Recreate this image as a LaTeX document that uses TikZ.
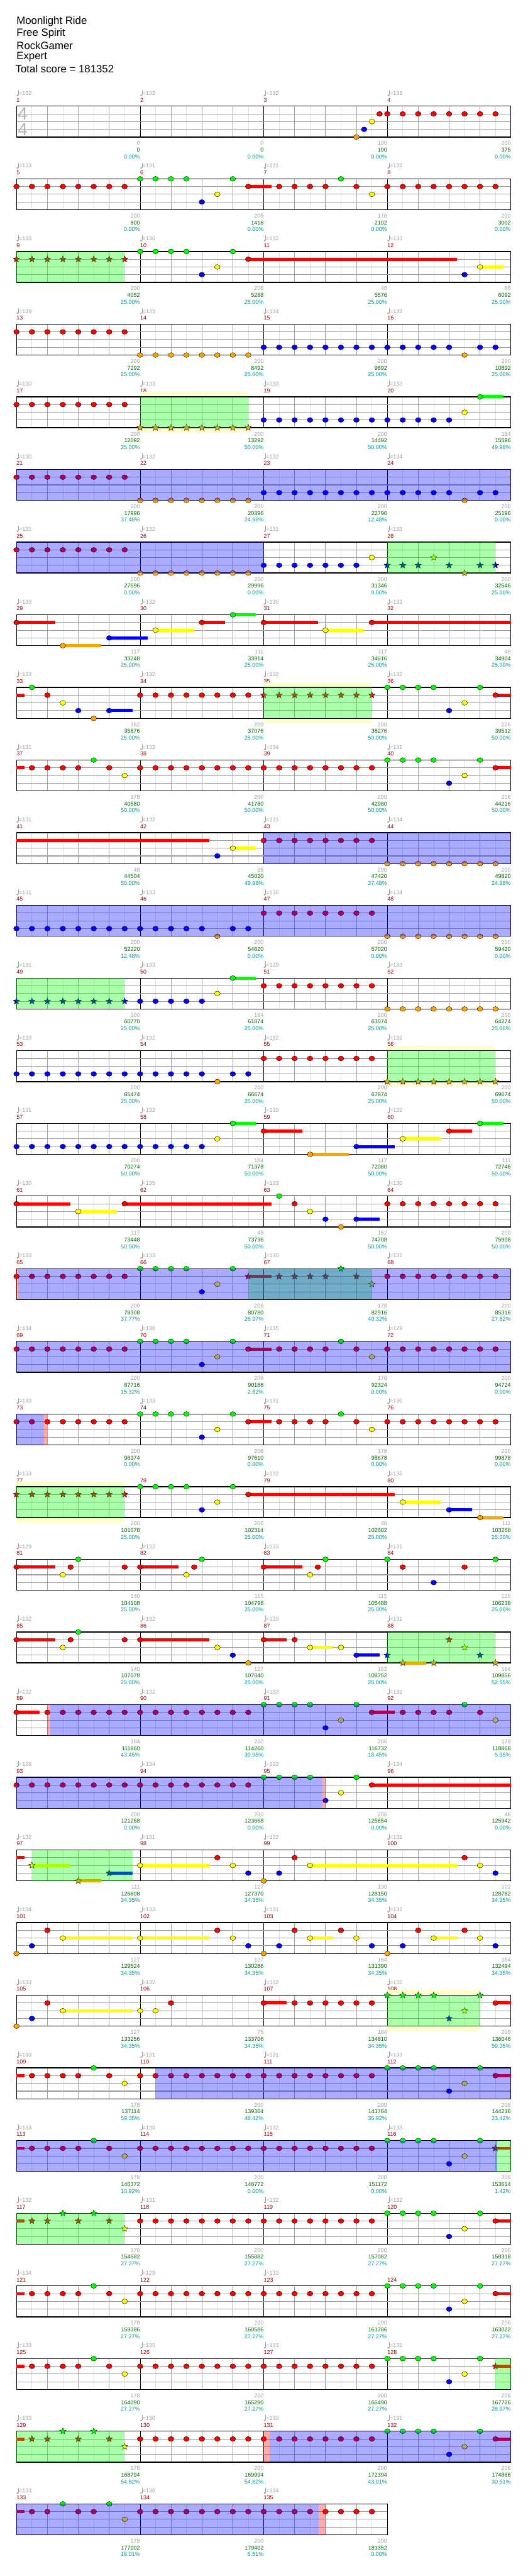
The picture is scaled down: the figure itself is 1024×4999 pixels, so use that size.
\documentclass[tikz,border=0pt]{standalone}
\usepackage{fontspec}
\setmainfont{Liberation Sans}
\usetikzlibrary{shapes.geometric}

\definecolor{lane0}{HTML}{00FF00}
\definecolor{lane1}{HTML}{FF0000}
\definecolor{lane2}{HTML}{FFFF00}
\definecolor{lane3}{HTML}{0000FF}
\definecolor{lane4}{HTML}{FFA500}
\definecolor{tempogray}{HTML}{A0A0A0}
\definecolor{mnumred}{HTML}{990000}
\definecolor{scoregray}{HTML}{A0A0A0}
\definecolor{scoregreen}{HTML}{006600}
\definecolor{scoreteal}{HTML}{009999}
\definecolor{phraseyellow}{HTML}{FFFFCC}
\definecolor{gridlight}{HTML}{E0E0E0}
\definecolor{gridgray}{HTML}{A0A0A0}
\definecolor{timesiggray}{HTML}{B4B4B4}

\tikzset{
  header/.style={font=\fontsize{20.5}{23}\selectfont, anchor=west, inner sep=0pt},
  tempolabel/.style={font=\fontsize{11}{12}\selectfont, text=tempogray, anchor=west, inner sep=0pt},
  measurelabel/.style={font=\fontsize{11}{12}\selectfont, text=mnumred, anchor=west, inner sep=0pt},
  scoregraylabel/.style={font=\fontsize{11}{12}\selectfont, text=scoregray, anchor=east, inner sep=0pt},
  scoregreenlabel/.style={font=\fontsize{11}{12}\selectfont, text=scoregreen, anchor=east, inner sep=0pt},
  scoretealabel/.style={font=\fontsize{11}{12}\selectfont, text=scoreteal, anchor=east, inner sep=0pt},
  timesig/.style={font=\fontsize{34}{34}\selectfont, text=timesiggray, inner sep=0pt},
  eighthline/.style={draw=gridlight, line width=0.8pt},
  beatline/.style={draw=gridgray, line width=0.9pt},
  measureline/.style={draw=black, line width=0.9pt},
  laneline/.style={draw=gridgray, line width=1.3pt},
  staffborder/.style={draw=black, line width=1.6pt},
  gem/.style={draw=black, line width=0.5pt},
  stargem/.style={star, star points=5, star point ratio=2.3, minimum size=13pt, inner sep=0pt, draw=black, line width=0.5pt},
  activation/.style={fill=lane0, fill opacity=0.33},
  overdrive/.style={fill=lane3, fill opacity=0.33},
  squeeze/.style={fill=lane1, fill opacity=0.33},
  phrasebox/.style={fill=phraseyellow},
  chartrow/.style={shift={({32},{206+141*(#1-1)})}, x=30pt},
}

% staff with grid, #1 = number of measures
\newcommand{\staff}[1]{%
  \pgfmathtruncatemacro\lastline{8*#1}%
  \fill[white] (0,0) rectangle (\lastline,60);
  \foreach \gx in {1,...,\lastline} \draw[eighthline] (\gx,0) -- (\gx,60);
  \foreach \gx in {2,4,...,\lastline} \draw[beatline] (\gx,0) -- (\gx,60);
  \foreach \gx in {8,16,...,\lastline} \draw[measureline] (\gx,0) -- (\gx,60);
  \foreach \ly in {15,30,45} \draw[laneline] (0,\ly) -- (\lastline,\ly);
  \draw[staffborder] (0,0) rectangle (\lastline,60);
}
% notes: #1 = positions in eighths, #2 = lane
\newcommand{\nt}[2]{\foreach \np in {#1} {\filldraw[gem, fill=lane#2] (\np,15*#2) ellipse [x radius=5.5pt, y radius=4.7pt];}}
\newcommand{\stn}[2]{\foreach \np in {#1} {\node[stargem, fill=lane#2] at (\np,15*#2) {};}}
\newcommand{\sus}[3]{\fill[lane#3] (#1,15*#3-3) rectangle (#2,15*#3+3);}
\newcommand{\phrase}[2]{\fill[phrasebox] (#1,-10) rectangle (#2,70);}
\newcommand{\spgreen}[2]{\fill[activation] (#1,0) rectangle (#2,60);}
\newcommand{\spblue}[2]{\fill[overdrive] (#1,0) rectangle (#2,60);}
\newcommand{\sppink}[2]{\fill[squeeze] (#1,0) rectangle (#2,60);}
% labels above and below
\newcommand{\tempos}[1]{%
  \foreach \midx/\tval in {#1} {%
    \fill[tempogray] ([xshift=2pt]{8*\midx},-21) ellipse [x radius=2.1pt, y radius=1.6pt];
    \draw[tempogray, line width=0.7pt] ([xshift=3.9pt]{8*\midx},-21.5) -- ++(0,-10);
    \node[tempolabel] at ([xshift=4.5pt]{8*\midx},-25) {=\tval};
  }}
\newcommand{\mnums}[2]{%
  \foreach \midx in {0,...,#2} {%
    \pgfmathtruncatemacro\mno{#1+\midx}%
    \node[measurelabel] at ({8*\midx},-12) {\mno};
  }}
\newcommand{\scores}[1]{%
  \foreach \gscore/\cscore/\pscore [count=\midx] in {#1} {%
    \node[scoregraylabel] at ({8*\midx},72) {\gscore};
    \node[scoregreenlabel] at ({8*\midx},85) {\cscore};
    \node[scoretealabel] at ({8*\midx},98) {\pscore};
  }}

\begin{document}
\begin{tikzpicture}[x=1pt, y=-1pt]
\useasboundingbox (0,0) rectangle (1024,4999);
\fill[white] (0,0) rectangle (1024,4999);

% song header
\node[header] (song) at (32,42) {Moonlight Ride};
\node[header] (artist) at (32,65) {Free Spirit};
\node[header] (charter) at (32,88) {RockGamer};
\node[header] (difficulty) at (32,111) {Expert};
\node[header] (total) at (30,134) {Total score = 181352};

% measures 1-4
\begin{scope}[chartrow=1]
  \tempos{0/132,1/132,2/132,3/133} \mnums{1}{3}
  \staff{4}
  \node[timesig] (top4) at (0.4,15) {4};
  \node[timesig] (bottom4) at (0.4,45) {4};
  \nt{22}{4} \nt{22.5}{3} \nt{23}{2} \nt{23.5}{1} \nt{24,...,31}{1}
  \scores{0/0/0.00\%,0/0/0.00\%,100/100/0.00\%,200/375/0.00\%}
\end{scope}

% measures 5-8
\begin{scope}[chartrow=2]
  \tempos{0/133,1/131,2/131,3/132} \mnums{5}{3}
  \staff{4}
  \sus{15}{16.5}{1}
  \nt{0,...,7}{1} \nt{8,9,10,11,14,21}{0} \nt{12}{3} \nt{13,23}{2}
  \nt{15,17,18,19,20,22}{1} \nt{24,...,31}{1}
  \scores{200/800/0.00\%,206/1418/0.00\%,178/2102/0.00\%,200/3002/0.00\%}
\end{scope}

% measures 9-12
\begin{scope}[chartrow=3]
  \tempos{0/133,1/130,2/132,3/133} \mnums{9}{3}
  \staff{4}
  \sus{15}{28.5}{1} \sus{30}{31.5}{2}
  \stn{0,...,7}{1}
  \nt{8,9,10,11,14}{0} \nt{12,29}{3} \nt{13,30}{2} \nt{15}{1}
  \spgreen{0}{7}
  \scores{200/4052/25.00\%,206/5288/25.00\%,48/5576/25.00\%,86/6092/25.00\%}
\end{scope}

% measures 13-16
\begin{scope}[chartrow=4]
  \tempos{0/129,1/133,2/134,3/132} \mnums{13}{3}
  \staff{4}
  \nt{0,...,7}{1} \nt{8,...,15}{4} \nt{16,...,28}{3} \nt{29}{4} \nt{30,31}{3}
  \scores{200/7292/25.00\%,200/8492/25.00\%,200/9692/25.00\%,200/10892/25.00\%}
\end{scope}

% measures 17-20
\begin{scope}[chartrow=5]
  \tempos{0/130,1/133,2/133,3/133} \mnums{17}{3}
  \phrase{8}{15}
  \staff{4}
  \sus{30}{31.5}{0}
  \nt{0,...,7}{1} \stn{8,...,15}{4} \nt{16,...,28}{3} \nt{29}{2} \nt{30}{0}
  \spgreen{8}{15}
  \scores{200/12092/25.00\%,200/13292/50.00\%,200/14492/50.00\%,184/15596/49.98\%}
\end{scope}

% measures 21-24
\begin{scope}[chartrow=6]
  \tempos{0/130,1/132,2/132,3/134} \mnums{21}{3}
  \staff{4}
  \nt{0,...,7}{1} \nt{8,...,15}{4} \nt{16,...,28}{3} \nt{29}{4} \nt{30,31}{3}
  \spblue{0}{32}
  \scores{200/17996/37.48\%,200/20396/24.98\%,200/22796/12.48\%,200/25196/0.00\%}
\end{scope}

% measures 25-28
\begin{scope}[chartrow=7]
  \tempos{0/131,1/132,2/131,3/133} \mnums{25}{3}
  \staff{4}
  \nt{0,...,7}{1} \nt{8,...,15}{4} \nt{16,...,22}{3} \nt{23}{2}
  \stn{24,25,26,28,30,31}{3} \stn{27}{2} \stn{29}{4}
  \spgreen{24}{31} \spblue{0}{16}
  \scores{200/27596/0.00\%,200/29996/0.00\%,200/31346/0.00\%,200/32546/25.00\%}
\end{scope}

% measures 29-32
\begin{scope}[chartrow=8]
  \tempos{0/133,1/132,2/130,3/133} \mnums{29}{3}
  \staff{4}
  \sus{0}{2.5}{1} \sus{3}{5.5}{4} \sus{6}{8.5}{3} \sus{9}{11.5}{2} \sus{12}{13.5}{1}
  \sus{14}{15.5}{0} \sus{16}{19.5}{1} \sus{20}{22.5}{2} \sus{23}{32}{1}
  \nt{0,12,16,23}{1} \nt{3}{4} \nt{6}{3} \nt{9,20}{2} \nt{14}{0}
  \scores{117/33248/25.00\%,111/33914/25.00\%,117/34616/25.00\%,48/34904/25.00\%}
\end{scope}

% measures 33-36
\begin{scope}[chartrow=9]
  \tempos{0/133,1/132,2/132,3/132} \mnums{33}{3}
  \phrase{16}{23}
  \staff{4}
  \sus{0}{0.5}{1} \sus{6}{7.5}{3} \sus{31}{32}{1}
  \nt{1,24,25,26,27,30}{0} \nt{2,31}{1} \nt{8,...,15}{1} \nt{3,29}{2} \nt{4,6,28}{3} \nt{5}{4}
  \stn{16,...,23}{1}
  \spgreen{16}{23}
  \scores{162/35876/25.00\%,200/37076/25.00\%,200/38276/50.00\%,206/39512/50.00\%}
\end{scope}

% measures 37-40
\begin{scope}[chartrow=10]
  \tempos{0/131,1/132,2/134,3/131} \mnums{37}{3}
  \staff{4}
  \sus{0}{0.5}{1} \sus{31}{32}{1}
  \nt{1,2,3,4,6,31}{1} \nt{8,...,23}{1} \nt{5,24,25,26,27,30}{0} \nt{7,29}{2} \nt{28}{3}
  \scores{178/40580/50.00\%,200/41780/50.00\%,200/42980/50.00\%,206/44216/50.00\%}
\end{scope}

% measures 41-44
\begin{scope}[chartrow=11]
  \tempos{0/131,1/132,2/131,3/134} \mnums{41}{3}
  \staff{4}
  \sus{0}{12.5}{1} \sus{14}{15.5}{2}
  \nt{13}{3} \nt{14}{2} \nt{16,...,23}{1} \nt{24,...,31}{4}
  \spblue{16}{32}
  \scores{48/44504/50.00\%,86/45020/49.98\%,200/47420/37.48\%,200/49820/24.98\%}
\end{scope}

% measures 45-48
\begin{scope}[chartrow=12]
  \tempos{0/131,1/133,2/130,3/134} \mnums{45}{3}
  \staff{4}
  \nt{0,...,12}{3} \nt{13}{4} \nt{14,15}{3} \nt{16,...,23}{1} \nt{24,...,31}{4}
  \spblue{0}{32}
  \scores{200/52220/12.48\%,200/54620/0.00\%,200/57020/0.00\%,200/59420/0.00\%}
\end{scope}

% measures 49-52
\begin{scope}[chartrow=13]
  \tempos{0/131,1/133,2/129,3/133} \mnums{49}{3}
  \staff{4}
  \sus{14}{15.5}{0}
  \stn{0,...,7}{3} \nt{8,...,12}{3} \nt{13}{2} \nt{14}{0} \nt{16,...,23}{1} \nt{24,...,31}{4}
  \spgreen{0}{7}
  \scores{200/60770/25.00\%,184/61874/25.00\%,200/63074/25.00\%,200/64274/25.00\%}
\end{scope}

% measures 53-56
\begin{scope}[chartrow=14]
  \tempos{0/133,1/132,2/132,3/132} \mnums{53}{3}
  \phrase{24}{31}
  \staff{4}
  \nt{0,...,12}{3} \nt{13}{4} \nt{14,15}{3} \nt{16,...,23}{1} \stn{24,...,31}{4}
  \spgreen{24}{31}
  \scores{200/65474/25.00\%,200/66674/25.00\%,200/67874/25.00\%,200/69074/50.00\%}
\end{scope}

% measures 57-60
\begin{scope}[chartrow=15]
  \tempos{0/131,1/132,2/133,3/132} \mnums{57}{3}
  \staff{4}
  \sus{14}{15.5}{0} \sus{16}{18.5}{1} \sus{19}{21.5}{4} \sus{22}{24.5}{3}
  \sus{25}{27.5}{2} \sus{28}{29.5}{1} \sus{30}{31.5}{0}
  \nt{0,...,12}{3} \nt{13}{2} \nt{14,30}{0} \nt{16,28}{1} \nt{19}{4} \nt{22}{3} \nt{25}{2}
  \scores{200/70274/50.00\%,184/71378/50.00\%,117/72080/50.00\%,111/72746/50.00\%}
\end{scope}

% measures 61-64
\begin{scope}[chartrow=16]
  \tempos{0/130,1/135,2/133,3/130} \mnums{61}{3}
  \staff{4}
  \sus{0}{3.5}{1} \sus{4}{6.5}{2} \sus{7}{16.5}{1} \sus{22}{23.5}{3}
  \nt{0,7,18}{1} \nt{24,...,31}{1} \nt{4,19}{2} \nt{17}{0} \nt{20,22}{3} \nt{21}{4}
  \scores{117/73448/50.00\%,48/73736/50.00\%,162/74708/50.00\%,200/75908/50.00\%}
\end{scope}

% measures 65-68
\begin{scope}[chartrow=17]
  \tempos{0/133,1/133,2/130,3/132} \mnums{65}{3}
  \staff{4}
  \sus{15}{16.5}{1}
  \nt{0,...,7}{1} \nt{8,9,10,11,14}{0} \nt{12}{3} \nt{13}{2} \nt{24,...,31}{1}
  \stn{15,17,18,19,20,22}{1} \stn{21}{0} \stn{23}{2}
  \spgreen{15}{23} \spblue{0.13}{32} \sppink{0}{0.13}
  \scores{200/78308/37.77\%,206/80780/26.97\%,178/82916/40.32\%,200/85316/27.82\%}
\end{scope}

% measures 69-72
\begin{scope}[chartrow=18]
  \tempos{0/134,1/130,2/135,3/129} \mnums{69}{3}
  \staff{4}
  \sus{15}{16.5}{1}
  \nt{0,...,7}{1} \nt{8,9,10,11,14,21}{0} \nt{12}{3} \nt{13,23}{2}
  \nt{15,17,18,19,20,22}{1} \nt{24,...,31}{1}
  \spblue{0}{32}
  \scores{200/87716/15.32\%,206/90188/2.82\%,178/92324/0.00\%,200/94724/0.00\%}
\end{scope}

% measures 73-76
\begin{scope}[chartrow=19]
  \tempos{0/133,1/133,2/131,3/130} \mnums{73}{3}
  \staff{4}
  \sus{15}{16.5}{1}
  \nt{0,...,7}{1} \nt{8,9,10,11,14,21}{0} \nt{12}{3} \nt{13,23}{2}
  \nt{15,17,18,19,20,22}{1} \nt{24,...,31}{1}
  \spblue{0}{1.8} \sppink{1.8}{2}
  \scores{200/96374/0.00\%,206/97610/0.00\%,178/98678/0.00\%,200/99878/0.00\%}
\end{scope}

% measures 77-80
\begin{scope}[chartrow=20]
  \tempos{0/133,2/132,3/135} \mnums{77}{3}
  \phrase{0}{7}
  \staff{4}
  \sus{15}{24.5}{1} \sus{25}{27.5}{2} \sus{28}{29.5}{3} \sus{30}{31.5}{4}
  \stn{0,...,7}{1} \nt{8,9,10,11,14}{0} \nt{12,28}{3} \nt{13,25}{2} \nt{15}{1} \nt{30}{4}
  \spgreen{0}{7}
  \scores{200/101078/25.00\%,206/102314/25.00\%,48/102602/25.00\%,111/103268/25.00\%}
\end{scope}

% measures 81-84
\begin{scope}[chartrow=21]
  \tempos{0/129,1/132,2/133,3/131} \mnums{81}{3}
  \staff{4}
  \sus{0}{2.5}{1} \sus{8}{10.5}{1} \sus{16}{18.5}{1}
  \nt{0,3.5,7,8,11.5,16,19.5,25,29}{1} \nt{3,11,19}{2} \nt{4,12,20,24,31}{0} \nt{27}{3}
  \scores{140/104108/25.00\%,115/104798/25.00\%,115/105488/25.00\%,125/106238/25.00\%}
\end{scope}

% measures 85-88
\begin{scope}[chartrow=22]
  \tempos{0/132,1/132,2/133,3/131} \mnums{85}{3}
  \staff{4}
  \sus{0}{2.5}{1} \sus{8}{12.5}{1} \sus{16}{17.5}{1} \sus{19}{20.5}{2}
  \sus{22}{23.5}{3} \sus{25}{26.5}{4}
  \nt{0,3.5,7,8,16,18}{1} \nt{3,13,19,21}{2} \nt{4}{0} \nt{14,22}{3} \nt{15}{4}
  \stn{24,30}{3} \stn{25,27,31}{4} \stn{28}{1} \stn{29}{2}
  \spgreen{24}{31}
  \scores{140/107078/25.00\%,127/107840/25.00\%,152/108752/25.00\%,184/109856/52.55\%}
\end{scope}

% measures 89-92
\begin{scope}[chartrow=23]
  \tempos{0/132,1/132,2/133,3/132} \mnums{89}{3}
  \staff{4}
  \sus{0}{1.5}{1} \sus{23}{24.5}{1}
  \nt{0,2}{1} \nt{3,...,15}{1} \nt{23,25,26,27,28,30}{1} \nt{16,17,18,19,22,29}{0}
  \nt{20}{3} \nt{21,31}{2}
  \sppink{2}{2.2} \spblue{2.2}{32}
  \scores{184/111860/43.45\%,200/114260/30.95\%,206/116732/18.45\%,178/118868/5.95\%}
\end{scope}

% measures 93-96
\begin{scope}[chartrow=24]
  \tempos{0/128,1/134,2/132,3/134} \mnums{93}{3}
  \staff{4}
  \sus{23}{32}{1}
  \nt{0,...,15}{1} \nt{23}{1} \nt{16,17,18,19,22}{0} \nt{20}{3} \nt{21}{2}
  \spblue{0}{19.8} \sppink{19.8}{20}
  \scores{200/121268/0.00\%,200/123668/0.00\%,206/125654/0.00\%,48/125942/0.00\%}
\end{scope}

% measures 97-100
\begin{scope}[chartrow=25]
  \tempos{0/132,1/131,2/132,3/131} \mnums{97}{3}
  \staff{4}
  \sus{0}{0.5}{1} \sus{1}{3.5}{2} \sus{4}{5.5}{4} \sus{6}{7.5}{3} \sus{8}{12.5}{2} \sus{19}{28.5}{2}
  \stn{1}{2} \stn{4}{4} \stn{6}{3}
  \nt{8,14,19,30}{2} \nt{13,18,29}{1} \nt{15,17,31}{3} \nt{16}{4}
  \spgreen{1}{7.5}
  \scores{111/126608/34.35\%,127/127370/34.35\%,130/128150/34.35\%,102/128762/34.35\%}
\end{scope}

% measures 101-104
\begin{scope}[chartrow=26]
  \tempos{0/134,1/133,2/131,3/132} \mnums{101}{3}
  \staff{4}
  \sus{3}{7.5}{2} \sus{8}{12.5}{2} \sus{19}{20.5}{2} \sus{27}{28.5}{2}
  \nt{0,16,24}{4} \nt{1,15,17,23,25,31}{3} \nt{2,13,18,21,26,29}{1} \nt{3,8,14,19,22,27,30}{2}
  \scores{127/129524/34.35\%,127/130286/34.35\%,184/131390/34.35\%,184/132494/34.35\%}
\end{scope}

% measures 105-108
\begin{scope}[chartrow=27]
  \tempos{0/133,1/132,2/132,3/132} \mnums{105}{3}
  \phrase{24}{30}
  \staff{4}
  \sus{3}{7.5}{2} \sus{16}{17.5}{1} \sus{31}{32}{1}
  \nt{0}{4} \nt{1}{3} \nt{2,10,16,18,19,20,21,22,23,31}{1} \nt{3,8,9}{2}
  \stn{24,25,26,27,30}{0} \stn{28}{3} \stn{29}{2}
  \spgreen{24}{30}
  \scores{127/133256/34.35\%,75/133706/34.35\%,184/134810/34.35\%,206/136046/59.35\%}
\end{scope}

% measures 109-112
\begin{scope}[chartrow=28]
  \tempos{0/133,1/131,2/131,3/133} \mnums{109}{3}
  \staff{4}
  \sus{0}{0.5}{1} \sus{31}{32}{1}
  \nt{1,2,3,4,6,31}{1} \nt{8,...,23}{1} \nt{5,24,25,26,27,30}{0} \nt{7,29}{2} \nt{28}{3}
  \spblue{9}{32}
  \scores{178/137114/59.35\%,200/139364/48.42\%,200/141764/35.92\%,206/144236/23.42\%}
\end{scope}

% measures 113-116
\begin{scope}[chartrow=29]
  \tempos{0/133,1/130,2/132,3/133} \mnums{113}{3}
  \staff{4}
  \sus{0}{0.5}{1} \sus{31}{32}{1}
  \nt{1,2,3,4,6}{1} \nt{8,...,23}{1} \nt{5,24,25,26,27,30}{0} \nt{7,29}{2} \nt{28}{3}
  \stn{31}{1}
  \spgreen{31}{32} \spblue{0}{31.1}
  \scores{178/146372/10.92\%,200/148772/0.00\%,200/151172/0.00\%,206/153614/1.42\%}
\end{scope}

% measures 117-120
\begin{scope}[chartrow=30]
  \tempos{0/132,1/131,2/132,3/132} \mnums{117}{3}
  \staff{4}
  \sus{0}{0.5}{1} \sus{31}{32}{1}
  \stn{1,2,4,6}{1} \stn{3,5}{0} \stn{7}{2}
  \nt{8,...,23}{1} \nt{31}{1} \nt{24,25,26,27,30}{0} \nt{28}{3} \nt{29}{2}
  \spgreen{0}{7}
  \scores{178/154682/27.27\%,200/155882/27.27\%,200/157082/27.27\%,206/158318/27.27\%}
\end{scope}

% measures 121-124
\begin{scope}[chartrow=31]
  \tempos{0/134,1/129,2/133} \mnums{121}{3}
  \staff{4}
  \sus{0}{0.5}{1} \sus{31}{32}{1}
  \nt{1,2,3,4,6,31}{1} \nt{8,...,23}{1} \nt{5,24,25,26,27,30}{0} \nt{7,29}{2} \nt{28}{3}
  \scores{178/159386/27.27\%,200/160586/27.27\%,200/161786/27.27\%,206/163022/27.27\%}
\end{scope}

% measures 125-128
\begin{scope}[chartrow=32]
  \tempos{0/133,1/130,2/133,3/131} \mnums{125}{3}
  \staff{4}
  \sus{0}{0.5}{1} \sus{31}{32}{1}
  \nt{1,2,3,4,6}{1} \nt{8,...,23}{1} \nt{5,24,25,26,27,30}{0} \nt{7,29}{2} \nt{28}{3}
  \stn{31}{1}
  \spgreen{31}{32}
  \scores{178/164090/27.27\%,200/165290/27.27\%,200/166490/27.27\%,206/167726/28.97\%}
\end{scope}

% measures 129-132
\begin{scope}[chartrow=33]
  \tempos{0/133,1/130,2/133,3/131} \mnums{129}{3}
  \staff{4}
  \sus{0}{0.5}{1} \sus{31}{32}{1}
  \stn{1,2,4,6}{1} \stn{3,5}{0} \stn{7}{2}
  \nt{8,...,23}{1} \nt{31}{1} \nt{24,25,26,27,30}{0} \nt{28}{3} \nt{29}{2}
  \spgreen{0}{7} \sppink{16}{16.4} \spblue{16.4}{32}
  \scores{178/168794/54.82\%,200/169994/54.82\%,200/172394/43.01\%,206/174866/30.51\%}
\end{scope}

% measures 133-135
\begin{scope}[chartrow=34]
  \tempos{0/133,1/130,2/134} \mnums{133}{2}
  \staff{3}
  \sus{0}{0.5}{1}
  \nt{1,2,4,5}{1} \nt{8,...,23}{1} \nt{3,6}{0} \nt{7}{2}
  \spblue{0}{19.56} \sppink{19.56}{20}
  \scores{178/177002/18.01\%,200/179402/5.51\%,200/181352/0.00\%}
\end{scope}
\end{tikzpicture}
\end{document}
